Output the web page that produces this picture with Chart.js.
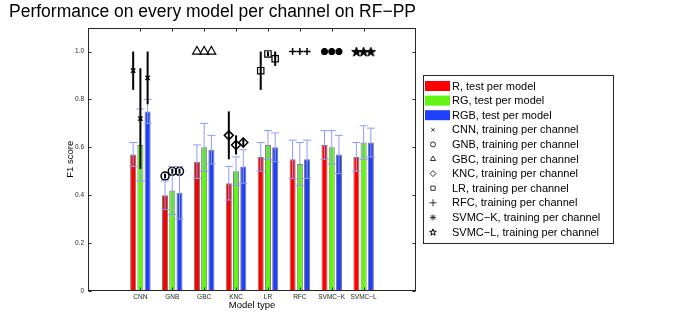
<!DOCTYPE html>
<html>
<head>
<meta charset="utf-8">
<script src="https://cdn.jsdelivr.net/npm/chart.js@4.4.1/dist/chart.umd.min.js"></script>
<style>
  html, body { margin: 0; padding: 0; background: #fff; }
  #wrap { position: relative; width: 680px; height: 327px; }
</style>
</head>
<body>
<div id="wrap"><canvas id="chart"></canvas></div>
<script>
// Categories
const models = ['CNN', 'GNB', 'GBC', 'KNC', 'LR', 'RFC', 'SVMC−K', 'SVMC−L'];

// Test per model (bars): mean F1 and half error
const rMean = [0.57, 0.40, 0.54, 0.45, 0.56, 0.55, 0.61, 0.56];
const rErr  = [0.05, 0.06, 0.07, 0.07, 0.06, 0.08, 0.06, 0.06];
const gMean = [0.61, 0.42, 0.60, 0.50, 0.61, 0.53, 0.60, 0.62];
const gErr  = [0.15, 0.10, 0.10, 0.06, 0.06, 0.09, 0.07, 0.07];
const bMean = [0.75, 0.41, 0.59, 0.52, 0.60, 0.55, 0.57, 0.62];
const bErr  = [0.05, 0.11, 0.06, 0.07, 0.06, 0.08, 0.08, 0.06];

// Training per channel (markers): R, RG, RGB per model
const trainR     = [0.92, 0.48, 1.00, 0.65, 0.92, 1.00, 1.00, 1.00];
const trainRErr  = [0.08, 0.01, 0.00, 0.10, 0.08, 0.00, 0.00, 0.00];
const trainRG    = [0.72, 0.50, 1.00, 0.61, 0.99, 1.00, 1.00, 1.00];
const trainRGErr = [0.21, 0.01, 0.00, 0.04, 0.01, 0.00, 0.00, 0.00];
const trainRGB   = [0.89, 0.50, 1.00, 0.62, 0.97, 1.00, 1.00, 1.00];
const trainRGBErr= [0.11, 0.01, 0.00, 0.02, 0.03, 0.00, 0.00, 0.00];

const yTicks = [0, 0.2, 0.4, 0.6, 0.8, 1];

// Colors
const colors = {
    red: '#ff0000',
    green: '#62f414',
    blue: '#1f3fff',
    edge: '#7a7a7a',
    err: '#8c9cff',
    axis: '#262626'
};

const catPct = 0.68;
const barPct = 0.84;
const slot = catPct / 3; // offset of R / RGB bars from category centre

// pentagram used as a point style
function makeStar(size, filled) {
    const c = document.createElement('canvas');
    c.width = size; c.height = size;
    const ctx = c.getContext('2d');
    const cx = size / 2, cy = size / 2 + size * 0.05;
    const ro = size / 2 - 0.5, ri = ro * 0.4;
    ctx.beginPath();
    for (let k = 0; k < 10; k++) {
        const r = k % 2 ? ri : ro;
        const a = -Math.PI / 2 + k * Math.PI / 5;
        ctx.lineTo(cx + r * Math.cos(a), cy + r * Math.sin(a));
    }
    ctx.closePath();
    if (filled) { ctx.fillStyle = '#000'; ctx.fill(); }
    ctx.strokeStyle = '#000';
    ctx.lineWidth = 1;
    ctx.stroke();
    return c;
}
const starBig = makeStar(11, true);
const starSmall = makeStar(8, false);

const markerStyles = [
    { style: 'crossRot', r: 3, w: 1.5, lr: 2.5 },
    { style: 'circle', r: 4, w: 1.5, lr: 2.5 },
    { style: 'triangle', r: 5, w: 1.2, lr: 3 },
    { style: 'rectRot', r: 4.5, w: 1.5, lr: 3 },
    { style: 'rect', r: 4.5, w: 1.2, lr: 3 },
    { style: 'cross', r: 3.5, w: 1.5, lr: 3.5 },
    { style: 'star', r: 3.5, w: 2.5, lr: 3 },
    { style: starBig, r: 5, w: 1, lr: 3, legendStyle: starSmall }
];

function barSet(label, means, errs, color) {
    return {
        type: 'bar',
        label: label,
        data: means.map((v, i) => ({ x: i + 1, y: v })),
        errs: errs,
        backgroundColor: color,
        borderColor: colors.edge,
        borderWidth: 1,
        categoryPercentage: catPct,
        barPercentage: barPct,
        order: 2
    };
}

const datasets = [
    barSet('R, test per model', rMean, rErr, colors.red),
    barSet('RG, test per model', gMean, gErr, colors.green),
    barSet('RGB, test per model', bMean, bErr, colors.blue)
];

models.forEach((m, i) => {
    const ms = markerStyles[i];
    datasets.push({
        type: 'scatter',
        label: m + ', training per channel',
        data: [
            { x: i + 1 - slot, y: trainR[i] },
            { x: i + 1, y: trainRG[i] },
            { x: i + 1 + slot, y: trainRGB[i] }
        ],
        errs: [trainRErr[i], trainRGErr[i], trainRGBErr[i]],
        marker: true,
        pointStyle: ms.style,
        pointRadius: ms.r,
        pointBorderWidth: ms.w,
        borderColor: '#000',
        backgroundColor: 'rgba(0,0,0,0)',
        showLine: false,
        order: 1
    });
});

// Error bars: light blue with caps for bars, thick black lines for markers
const errorBars = {
    id: 'errorBars',
    afterDatasetsDraw(chart) {
        const ctx = chart.ctx;
        const y = chart.scales.y;
        ctx.save();
        chart.data.datasets.forEach((ds, i) => {
            const meta = chart.getDatasetMeta(i);
            meta.data.forEach((el, j) => {
                const v = ds.data[j].y;
                const e = ds.errs[j];
                if (!e) return;
                const top = y.getPixelForValue(v + e);
                const bot = y.getPixelForValue(v - e);
                ctx.beginPath();
                if (ds.marker) {
                    ctx.strokeStyle = '#000';
                    ctx.lineWidth = 2;
                    ctx.moveTo(el.x, top);
                    ctx.lineTo(el.x, bot);
                } else {
                    ctx.strokeStyle = colors.err;
                    ctx.lineWidth = 1;
                    ctx.moveTo(el.x, top);
                    ctx.lineTo(el.x, bot);
                    ctx.moveTo(el.x - 4, top);
                    ctx.lineTo(el.x + 4, top);
                    ctx.moveTo(el.x - 4, bot);
                    ctx.lineTo(el.x + 4, bot);
                }
                ctx.stroke();
            });
        });
        ctx.restore();
    }
};

// Axes box with inward ticks on all four sides
const axesBox = {
    id: 'axesBox',
    afterDatasetsDraw(chart) {
        const { ctx, chartArea: a, scales } = chart;
        const L = Math.round(a.left) + 0.5, R = Math.round(a.right) - 0.5;
        const T = Math.round(a.top) + 0.5, B = Math.round(a.bottom) - 0.5;
        ctx.save();
        ctx.strokeStyle = colors.axis;
        ctx.lineWidth = 1;
        ctx.strokeRect(L, T, R - L, B - T);
        ctx.beginPath();
        models.forEach((m, i) => {
            const px = Math.round(scales.x.getPixelForValue(i + 1)) + 0.5;
            ctx.moveTo(px, B); ctx.lineTo(px, B - 3);
            ctx.moveTo(px, T); ctx.lineTo(px, T + 3);
        });
        yTicks.forEach(t => {
            const py = Math.round(scales.y.getPixelForValue(t)) + 0.5;
            ctx.moveTo(L, py); ctx.lineTo(L + 3, py);
            ctx.moveTo(R, py); ctx.lineTo(R - 3, py);
        });
        ctx.stroke();
        ctx.restore();
    }
};

// Legend box at the right of the axes
const sideLegend = {
    id: 'sideLegend',
    afterDraw(chart) {
        const ctx = chart.ctx;
        const a = chart.chartArea;
        const left = a.right + 7, top = 75, w = 190, h = 168;
        const rowH = 14.6, firstY = top + 11;
        ctx.save();
        ctx.fillStyle = '#fff';
        ctx.fillRect(left, top, w, h);
        ctx.strokeStyle = colors.axis;
        ctx.lineWidth = 1;
        ctx.strokeRect(Math.round(left) + 0.5, top + 0.5, w, h);
        ctx.font = '11px "Liberation Sans", Arial, sans-serif';
        ctx.textBaseline = 'middle';
        chart.data.datasets.forEach((ds, i) => {
            const cy = firstY + i * rowH;
            if (ds.type === 'bar') {
                ctx.fillStyle = ds.backgroundColor;
                ctx.fillRect(left + 2, cy - 5, 25, 10);
            } else {
                const ms = markerStyles[i - 3];
                const style = ms.legendStyle || ms.style;
                ctx.strokeStyle = '#333';
                ctx.fillStyle = 'rgba(0,0,0,0)';
                if (typeof style === 'string') {
                    Chart.helpers.drawPoint(ctx, {
                        pointStyle: style, radius: ms.lr, borderWidth: 0.8, rotation: 0
                    }, left + 10, cy);
                } else {
                    ctx.drawImage(style, left + 10 - style.width / 2, cy - style.height / 2);
                }
            }
            ctx.fillStyle = '#000';
            ctx.fillText(ds.label, left + 29, cy + 0.5);
        });
        ctx.restore();
    }
};

Chart.defaults.font.family = '"Liberation Sans", Arial, sans-serif';
Chart.defaults.color = colors.axis;

new Chart(document.getElementById('chart'), {
    type: 'bar',
    data: { datasets: datasets },
    options: {
        responsive: true,
        maintainAspectRatio: false,
        animation: false,
        devicePixelRatio: 1,
        layout: { padding: { left: 9, right: 264, top: 0, bottom: 0 } },
        plugins: {
            legend: { display: false },
            tooltip: { enabled: false },
            title: {
                display: true,
                text: 'Performance on every model per channel on RF−PP',
                align: 'start',
                color: '#000',
                font: { size: 18, weight: 'normal' },
                padding: { top: 1, bottom: 5 }
            }
        },
        scales: {
            x: {
                type: 'linear',
                min: 0, max: 9,
                grid: { display: false, drawTicks: false },
                border: { display: false },
                afterBuildTicks: (scale) => { scale.ticks = models.map((m, i) => ({ value: i + 1 })); },
                ticks: {
                    autoSkip: false, maxRotation: 0, padding: 2,
                    font: { size: 6.5 },
                    callback: (v) => models[v - 1] || ''
                },
                title: {
                    display: true, text: 'Model type', color: '#000',
                    font: { size: 9.5 }, padding: { top: 0, bottom: 16 }
                },
                afterFit: (scale) => { scale.height = 36; }
            },
            y: {
                min: 0, max: 1.1,
                grid: { display: false, drawTicks: false },
                border: { display: false },
                afterBuildTicks: (scale) => { scale.ticks = yTicks.map(v => ({ value: v })); },
                ticks: { padding: 4, font: { size: 6.5 } },
                title: {
                    display: true, text: 'F1 score', color: '#000',
                    font: { size: 9.5 }, padding: { top: 56, bottom: 0 }
                },
                afterFit: (scale) => { scale.width = 79; }
            }
        }
    },
    plugins: [errorBars, axesBox, sideLegend]
});
</script>
</body>
</html>
